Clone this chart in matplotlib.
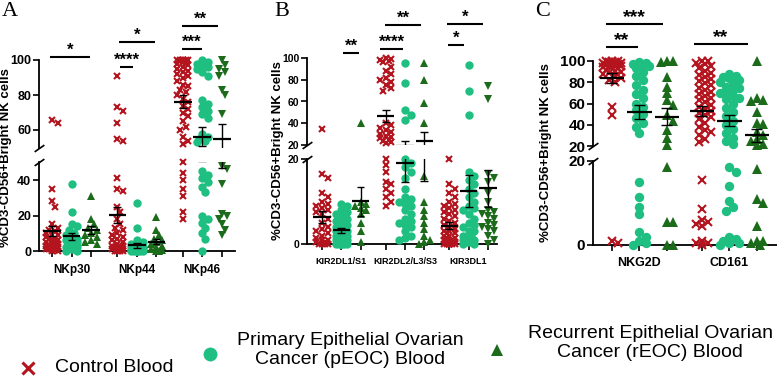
import numpy as np
import matplotlib
matplotlib.use("Agg")
import matplotlib.pyplot as plt
import matplotlib.transforms as mtransforms

RED = '#b3141e'
LGREEN = '#1fbf82'
DGREEN = '#1b6b1b'

legend_labels = ['Control Blood',
                 'Primary Epithelial Ovarian\nCancer (pEOC) Blood',
                 'Recurrent Epithelial Ovarian\nCancer (rEOC) Blood']

# ---- panel A ----
a_cats = ['NKp30', 'NKp44', 'NKp46']
nkp30_ctrl = [66, 64, 35, 28, 25, 15, 13, 12, 11, 10, 9, 9, 8, 7, 7, 6, 6, 5, 5, 4, 4, 3, 3, 3, 2, 2, 2, 1, 1, 1, 0.5, 0, 0]
nkp30_peoc = [38, 22, 15, 14, 12, 10, 9, 8, 7, 6, 6, 5, 4, 4, 3, 2, 2, 1, 0, 0]
nkp30_reoc = [31, 18, 15, 13, 12, 10, 9, 8, 6, 5, 4]
nkp44_ctrl = [91, 73, 71, 64, 55, 54, 41, 35, 34, 25, 22, 18, 15, 13, 12, 10, 9, 8, 7, 6, 5, 4, 3, 3, 2, 2, 2, 1, 1, 1, 0, 0, 0, 0]
nkp44_peoc = [27, 13, 6, 5, 4, 3, 2, 2, 1, 1, 1, 1, 0.5, 0.5, 0, 0, 0, 0, 0, 0, 0]
nkp44_reoc = [19, 12, 9, 7, 6, 5, 4, 3, 2, 1, 0.5, 0, 0]
nkp46_ctrl = [100, 100, 100, 100, 100, 100, 100, 99, 99, 98, 97, 96, 95, 94, 93, 92, 91, 90, 88, 86, 85, 83,
              82, 80, 78, 76, 74, 72, 70, 68, 65, 62, 60, 56, 54, 52, 50, 44, 40, 35, 31, 22, 18]
nkp46_peoc = [100, 99, 98, 97, 96, 95, 93, 91, 77, 75, 73, 71, 69, 67, 58, 56, 55, 54, 53, 45, 43, 41, 39, 36,
              33, 20, 18, 16, 13, 10, 7, 0]
nkp46_reoc = [100, 97, 95, 93, 91, 83, 80, 69, 48, 46, 38, 21, 20, 18, 15, 12, 9]

# ---- panel B ----
b_cats = ['KIR2DL1/S1', 'KIR2DL2/L3/S3', 'KIR3DL1']
kir2dl1_ctrl = [35, 16.5, 15.5, 12, 11, 10, 9.5, 9, 8.5, 8, 7.5, 7, 6, 5, 4, 3.5, 3, 2.5, 2, 1.5, 1, 1, 0.5, 0.5, 0, 0, 0, 0]
kir2dl1_peoc = [9.5, 9, 8, 7.5, 7, 6.5, 6, 5.5, 5, 4.5, 4, 3.5, 3, 3, 2.5, 2, 2, 1.5, 1, 1, 0.5, 0.5, 0, 0, 0, 0, 0, 0, 0]
kir2dl1_reoc = [40, 10, 9.5, 9, 8.5, 8, 7, 5, 3, 0.5]
kir2dl2_ctrl = [100, 99, 98, 97, 96, 92, 88, 85, 82, 80, 78, 75, 72, 70, 40, 38, 36, 34, 32, 30, 28, 27, 26, 25,
                24, 23, 22, 20, 18.5, 17, 14.5, 14, 13, 12, 11, 10, 9]
kir2dl2_peoc = [95, 77, 52, 48, 43, 20, 19, 18, 17, 15.5, 13, 11, 10.5, 10, 9.5, 9, 8, 7, 6, 5.5, 5, 4.5, 4, 3, 2, 1.5, 1]
kir2dl2_reoc = [95, 80, 59, 40, 16, 10, 8, 6.5, 5, 3.5, 2, 1, 0.5, 0]
kir3dl1_ctrl = [20, 14, 13, 12, 11, 10, 9.5, 9, 8.5, 8, 7.5, 7, 6.5, 6, 5.5, 5, 4.5, 4, 3.5, 3, 3, 2.5, 2.5, 2, 2,
                1.5, 1.5, 1, 1, 1, 0.5, 0.5, 0.5, 0, 0, 0, 0, 0, 0, 0, 0, 0, 0]
kir3dl1_peoc = [94, 70, 48, 17, 16, 15, 14, 13, 12, 11, 10, 9, 8.5, 8, 7, 6, 5, 4.5, 4, 3, 3, 2, 2, 1.5, 1, 1,
                0.5, 0.5, 0.5, 0, 0]
kir3dl1_reoc = [74, 62, 16.5, 15.5, 14.5, 12, 10, 8, 7.5, 7, 6.5, 6, 5, 4.5, 4, 3.5, 3, 2, 1, 0]

# ---- panel C ----
c_cats = ['NKG2D', 'CD161']
nkg2d_ctrl = [100, 100, 100, 99, 99, 98, 98, 97, 97, 96, 96, 95, 95, 94, 94, 93, 92, 91, 90, 89, 88, 86, 84, 82,
              80, 57, 49, 1, 0.5]
nkg2d_peoc = [99, 98, 97, 96, 95, 93, 90, 86, 82, 77, 73, 69, 65, 60, 57, 54, 50, 46, 42, 38, 32, 15, 11.5, 9,
              7.5, 3, 2, 1, 0.5, 0]
nkg2d_reoc = [100, 100, 99, 85, 76, 70, 63, 59, 49, 44, 35, 28, 21, 18.5, 5.5, 5.5, 0, 0]
cd161_ctrl = [100, 100, 98, 97, 95, 93, 91, 89, 87, 85, 83, 81, 79, 77, 75, 73, 71, 69, 67, 65, 63, 61, 59, 57,
              55, 53, 51, 49, 47, 45, 42, 38, 35, 33, 30, 27, 24, 15.5, 8.5, 6, 5.5, 5, 4.5, 1, 0.5, 0.5, 0]
cd161_peoc = [88, 86, 85, 84, 82, 80, 79, 76, 75, 73, 70, 70, 67, 65, 64, 60, 56, 52, 48, 44, 40, 36, 32, 28,
              25, 22, 18.5, 17.5, 14, 10.5, 9, 8, 2, 1.5, 1, 0.5, 0.5, 0]
cd161_reoc = [100, 65, 63, 62, 52, 42, 41, 33, 30, 27, 25, 22, 21, 18, 11, 10, 4.5, 1, 1, 0.5, 0]

# significance: (x1, x2, y, stars)
a_sig = [(-0.1, 1.95, 101.7, '*'), (3.5, 4.15, 96, '****'), (3.44, 5.28, 110.3, '*'),
         (6.67, 7.69, 106.3, '***'), (6.67, 8.5, 119.4, '**')]
b_sig = [(1.09, 1.92, 104.6, '**'), (3.0, 4.2, 108.3, '****'), (3.26, 5.13, 130.3, '**'),
         (6.53, 7.36, 112, '*'), (6.48, 8.34, 131.3, '*')]
c_sig = [(-0.22, 1.85, 134.8, '***'), (-0.22, 0.95, 113.2, '**'), (2.98, 4.95, 116, '**')]

W, H = 777, 378
fig = plt.figure(figsize=(W / 100, H / 100), dpi=100)
plt.rcParams['font.family'] = ['Liberation Sans', 'DejaVu Sans']

colors = [RED, LGREEN, DGREEN]


def box(x0, x1, ytop, ybot):
    return [x0 / W, 1 - ybot / H, (x1 - x0) / W, (ybot - ytop) / H]


def swarm(ax_up, ax_lo, brk, x0, vals, msz, spread):
    placed = []
    res = []
    step = msz * 0.35
    for v in sorted(vals, reverse=True):
        ax = ax_up if v > brk else ax_lo
        px0, py = ax.transData.transform((x0, v))
        pxu = ax.transData.transform((x0 + 1, v))[0] - px0
        cands = [0]
        k = 1
        while k * step <= spread * pxu:
            cands += [k * step, -k * step]
            k += 1
        best, bestd = 0, -1
        for dx in cands:
            d = min([np.hypot(dx - p[0], py - p[1]) for p in placed] + [1e9])
            if d >= msz * 0.7:
                best = dx
                break
            if d > bestd:
                best, bestd = dx, d
        placed.append((best, py))
        res.append((ax, x0 + best / pxu, v))
    return res


def panel(rect_up, rect_lo, xlim, brk, ytk_up, ytk_lo, cats, data, gap, sig, fs_tick, fs_cat, fs_star,
          cat_y, msz, markers, spread):
    ax_up = fig.add_axes(rect_up)
    ax_lo = fig.add_axes(rect_lo)
    for ax in (ax_up, ax_lo):
        ax.set_xlim(*xlim)
        for s in ('top', 'right'):
            ax.spines[s].set_visible(False)
        ax.spines['left'].set_linewidth(1.3)
        ax.tick_params(axis='y', length=4, width=1.2, pad=1.5)
        ax.patch.set_alpha(0)
    ax_up.set_ylim(brk, 100)
    ax_lo.set_ylim(0, brk)
    ax_up.spines['bottom'].set_visible(False)
    ax_up.set_xticks([])
    ax_lo.spines['bottom'].set_linewidth(1.3)
    ax_up.set_yticks(ytk_up)
    ax_up.set_yticklabels([str(t) for t in ytk_up], fontsize=fs_tick, fontweight='bold')
    ax_lo.set_yticks(ytk_lo)
    ax_lo.set_yticklabels([str(t) for t in ytk_lo], fontsize=fs_tick, fontweight='bold')
    pos = []
    for g, cat in enumerate(cats):
        for i in range(3):
            x0 = g * gap + i
            pos.append(x0)
            vals = np.array(data[g][i], dtype=float)
            mk = markers[g][i]
            if mk == 'x':
                st = dict(marker='x', color=colors[i], mew=1.5, ms=msz * 0.62)
            else:
                st = dict(marker=mk, color=colors[i], mew=0, ms=msz * 0.75)
            for ax, x, y in swarm(ax_up, ax_lo, brk, x0, vals, msz, spread):
                ax.plot(x, y, ls='none', clip_on=False, zorder=3, **st)
            m = vals.mean()
            se = vals.std(ddof=1) / np.sqrt(len(vals))
            for ax in (ax_up, ax_lo):
                ax.hlines(m, x0 - 0.45, x0 + 0.45, color='k', lw=1.6, zorder=6)
                ax.vlines(x0, m - se, m + se, color='k', lw=1.0, zorder=6)
                ax.hlines([m - se, m + se], x0 - 0.2, x0 + 0.2, color='k', lw=1.0, zorder=6)
        tr = mtransforms.blended_transform_factory(ax_lo.transData, fig.transFigure)
        ax_lo.text(g * gap + 1, 1 - cat_y / H, cat, transform=tr, ha='center', va='center',
                   fontsize=fs_cat, fontweight='bold')
    ax_lo.set_xticks(pos)
    ax_lo.set_xticklabels([])
    ax_lo.tick_params(axis='x', length=4, width=1.2, direction='out')
    ax_lo.spines['left'].set_bounds(0, brk)
    ax_up.spines['left'].set_bounds(brk, 100)
    brkm = [(-1, -0.7), (1, 0.7)]
    ax_up.plot([xlim[0]], [brk], marker=brkm, ms=7, mew=1.2, color='k', clip_on=False)
    ax_lo.plot([xlim[0]], [brk], marker=brkm, ms=7, mew=1.2, color='k', clip_on=False)
    for x1, x2, y, s in sig:
        ax_up.plot([x1, x2], [y, y], color='k', lw=1.5, clip_on=False, solid_capstyle='butt')
        ax_up.annotate(s, xy=((x1 + x2) / 2, y), xytext=(0, 1.5), textcoords='offset points',
                       ha='center', va='baseline', fontsize=fs_star, fontweight='bold', annotation_clip=False)
    return ax_up, ax_lo


panel(box(39, 235, 60, 147.5), box(39, 235, 162.25, 251), (-0.67, 9.38), 50, [60, 80, 100], [0, 20, 40],
      a_cats, [[nkp30_ctrl, nkp30_peoc, nkp30_reoc], [nkp44_ctrl, nkp44_peoc, nkp44_reoc],
               [nkp46_ctrl, nkp46_peoc, nkp46_reoc]], 3.35, a_sig, 9, 8.5, 12, 270, 8,
      [['x', 'o', '^'], ['x', 'o', '^'], ['x', 'o', 'v']], 0.33)
panel(box(307, 497, 58, 145), box(307, 497, 159, 244), (-0.78, 9.07), 20, [20, 40, 60, 80, 100], [0, 20],
      b_cats, [[kir2dl1_ctrl, kir2dl1_peoc, kir2dl1_reoc], [kir2dl2_ctrl, kir2dl2_peoc, kir2dl2_reoc],
               [kir3dl1_ctrl, kir3dl1_peoc, kir3dl1_reoc]], 3.3, b_sig, 7.5, 6.5, 12, 262, 8,
      [['x', 'o', '^'], ['x', 'o', '^'], ['x', 'o', 'v']], 0.33)
panel(box(593, 777, 61, 146), box(593, 777, 161, 245), (-0.69, 6.0), 20, [20, 40, 60, 80, 100], [0, 20],
      c_cats, [[nkg2d_ctrl, nkg2d_peoc, nkg2d_reoc], [cd161_ctrl, cd161_peoc, cd161_reoc]],
      3.27, c_sig, 11, 9, 14, 263, 9, [['x', 'o', '^'], ['x', 'o', '^']], 0.36)

# overlay for labels and legend
ov = fig.add_axes([0, 0, 1, 1])
ov.set_xlim(0, W)
ov.set_ylim(H, 0)
ov.axis('off')
for x, letter in [(10, 'A'), (282, 'B'), (543, 'C')]:
    ov.text(x, 11, letter, fontsize=16, family='Liberation Serif', ha='center', va='center')
ylab = '%CD3-CD56+Bright NK cells'
for x, y, fs in [(6, 158, 9.5), (278, 151, 9.5), (546, 153, 9.5)]:
    ov.text(x, y, ylab, rotation=90, fontsize=fs, fontweight='bold', ha='center', va='center')

ov.plot(28, 368, marker='x', color=RED, ms=8, mew=2.2, clip_on=False)
ov.plot(210, 354, marker='o', color=LGREEN, ms=10, mew=0, clip_on=False)
ov.plot(497, 350, marker='^', color=DGREEN, ms=8, mew=0, clip_on=False)
ov.text(55, 368, legend_labels[0], fontsize=14, ha='left', va='center')
ov.text(350, 350, legend_labels[1], fontsize=14, ha='center', va='center', linespacing=1.15)
ov.text(650, 343, legend_labels[2], fontsize=14, ha='center', va='center', linespacing=1.15)

fig.savefig('out.png', dpi=100)
